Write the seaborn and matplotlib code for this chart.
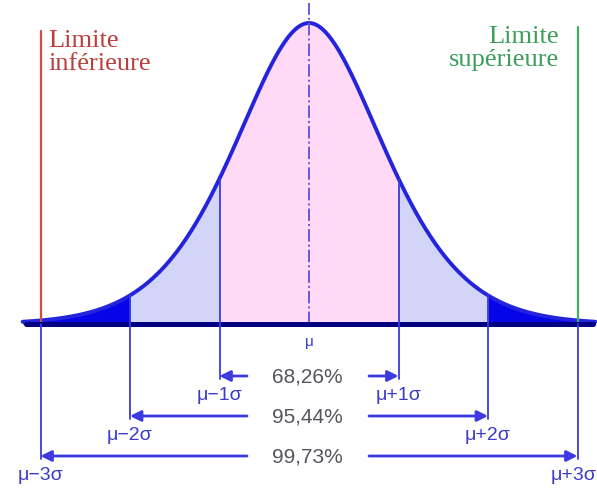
import numpy as np
import pandas as pd
import matplotlib
matplotlib.use("Agg")
import matplotlib.pyplot as plt
import seaborn as sns

# Données du graphique
ecarts = [-3, -2, -1, 0, 1, 2, 3]
etiquettes = ["μ−3σ", "μ−2σ", "μ−1σ", "μ", "μ+1σ", "μ+2σ", "μ+3σ"]
intervalles = [1, 2, 3]
pourcentages = ["68,26%", "95,44%", "99,73%"]
limites = ["Limite\ninférieure", "Limite\nsupérieure"]

# Forme de la cloche (~0.48 à 1σ, ~0.095 à 2σ)
C_BELL, D_BELL = 0.954, 0.311


def cloche(z):
    z = np.asarray(z, dtype=float)
    return np.exp(-C_BELL * z ** 2 / (1 + D_BELL * np.abs(z)))


# Repère : pixels de l'image -> unités sigma / hauteur relative
W, H = 597, 489
MU_PX, SIG_PX, BASE_PX, PEAK_PX = 309, 89.5, 325, 24


def px_x(p):
    return (p - MU_PX) / SIG_PX


def px_y(p):
    return (BASE_PX - p) / (BASE_PX - PEAK_PX)


sns.set_style("white")
plt.rcParams["font.family"] = ["Liberation Sans", "DejaVu Sans"]

fig = plt.figure(figsize=(W / 100, H / 100), dpi=100)
ax = fig.add_axes([0, 0, 1, 1])
ax.set_xlim(px_x(0), px_x(W))
ax.set_ylim(px_y(H), px_y(0))
ax.axis("off")

z = np.linspace(-3.2, 3.2, 1201)
df = pd.DataFrame({"z": z, "f": cloche(z)})

# zones
rose, lavande, bleu = "#ffd9f6", "#d2d5f7", "#0505e8"
m1 = (z >= -1) & (z <= 1)
m2 = (np.abs(z) >= 1) & (np.abs(z) <= 2)
m3 = (np.abs(z) >= 2) & (np.abs(z) <= 3.2)
ax.fill_between(z, 0, df["f"], where=m1, color=rose, lw=0)
ax.fill_between(z, 0, df["f"], where=m2 & (z < 0), color=lavande, lw=0)
ax.fill_between(z, 0, df["f"], where=m2 & (z > 0), color=lavande, lw=0)
ax.fill_between(z, 0, df["f"], where=m3 & (z < 0), color=bleu, lw=0)
ax.fill_between(z, 0, df["f"], where=m3 & (z > 0), color=bleu, lw=0)

sns.lineplot(data=df, x="z", y="f", ax=ax, color="#2424dc", lw=2.8)

# moyenne
ax.plot([0, 0], [0, px_y(4)], color="#6a5ad0", lw=1.4, ls="-.")

# limites
ax.plot([-3, -3], [0, px_y(32)], color="#d24a4a", lw=1.6)
ax.plot([3, 3], [0, px_y(28)], color="#3cb05a", lw=1.6)
ax.text(px_x(48), px_y(30), limites[0], family="Liberation Serif",
        fontsize=19, color="#b8403c", ha="left", va="top", linespacing=1.05)
ax.text(px_x(559), px_y(26), limites[1], family="Liberation Serif",
        fontsize=19, color="#3c9e5a", ha="right", va="top", linespacing=1.05)

# axe horizontal
ax.plot([px_x(26), px_x(593)], [0, 0], color="#000080", lw=3.6,
        solid_capstyle="round")

# lignes verticales, flèches et pourcentages
lignes_bleu = "#3a3ae0"
rang_y = {1: 377, 2: 417, 3: 457}
lab_y = {1: 396, 2: 436, 3: 476}
for k, pct in zip(intervalles, pourcentages):
    yr = px_y(rang_y[k])
    for s in (-1, 1):
        x = s * k
        haut = cloche(x) if k < 3 else 0
        ax.plot([x, x], [haut, yr - 0.01], color=lignes_bleu, lw=1.3)
        depart = px_x(247) if s < 0 else px_x(369)
        ax.annotate("", xy=(x, yr), xytext=(depart, yr),
                    arrowprops=dict(arrowstyle="-|>", color=lignes_bleu,
                                    lw=2.0, mutation_scale=16,
                                    shrinkA=0, shrinkB=0))
        i = ecarts.index(x)
        if x == 3:
            # au bord droit : aligné à droite pour rester dans l'image
            ax.text(px_x(596), px_y(lab_y[k]), etiquettes[i], fontsize=14,
                    color="#3c3cc8", ha="right", va="center")
        else:
            ax.text(x, px_y(lab_y[k]), etiquettes[i], fontsize=14,
                    color="#3c3cc8", ha="center", va="center")
    ax.text(px_x(307), yr, pct, fontsize=15, color="#555560",
            ha="center", va="center")

ax.text(0, px_y(342), etiquettes[3], fontsize=11, color="#3c3cc8",
        ha="center", va="center")

fig.savefig("out.png", dpi=100)
